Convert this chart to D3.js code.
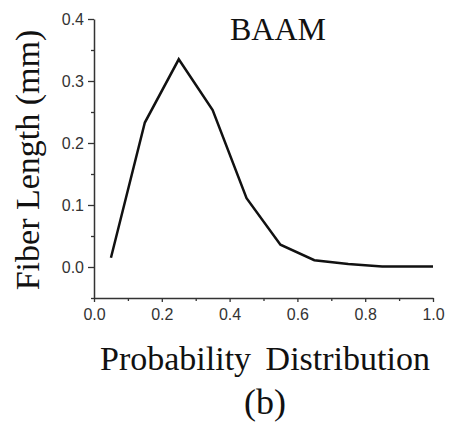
<!DOCTYPE html>
<html>
<head>
<meta charset="utf-8">
<script src="https://cdn.jsdelivr.net/npm/d3@7"></script>
<style>
  html, body { margin: 0; padding: 0; background: #ffffff; }
  svg { display: block; }
</style>
</head>
<body>
<svg id="chart" width="450" height="427"></svg>
<script>
// ---- data ----
const probability = [0.05, 0.15, 0.25, 0.35, 0.45, 0.55, 0.65, 0.75, 0.85, 0.95, 1.0];
const fiberLength = [0.015, 0.233, 0.335, 0.253, 0.111, 0.036, 0.011, 0.005, 0.001, 0.001, 0.001];
const xTicks = [0.0, 0.2, 0.4, 0.6, 0.8, 1.0];
const yTicks = [0.0, 0.1, 0.2, 0.3, 0.4];
const xMinorTicks = [0.1, 0.3, 0.5, 0.7, 0.9];
const yMinorTicks = [-0.05, 0.05, 0.15, 0.25, 0.35];
const title = "BAAM";
const xLabel = "Probability Distribution";
const yLabel = "Fiber Length (mm)";
const panelLabel = "(b)";

// ---- layout ----
const svg = d3.select("#chart");
const plotLeft = 94, plotRight = 433, plotTop = 19, plotBottom = 298;

const x = d3.scaleLinear().domain([0, 1]).range([plotLeft, plotRight]);
const y = d3.scaleLinear().domain([-0.05, 0.4]).range([plotBottom, plotTop]);

const axisColor = "#333";
const fmt = d3.format(".1f");

// x axis
const gx = svg.append("g").attr("transform", `translate(0,${plotBottom})`);
gx.call(d3.axisBottom(x).tickValues(xTicks).tickFormat(fmt).tickSize(4).tickSizeOuter(0).tickPadding(7));
gx.append("g").call(d3.axisBottom(x).tickValues(xMinorTicks).tickFormat("").tickSize(3).tickSizeOuter(0))
  .select(".domain").remove();

// y axis
const gy = svg.append("g").attr("transform", `translate(${plotLeft},0)`);
gy.call(d3.axisLeft(y).tickValues(yTicks).tickFormat(fmt).tickSize(6).tickSizeOuter(0).tickPadding(4));
gy.append("g").call(d3.axisLeft(y).tickValues(yMinorTicks).tickFormat("").tickSize(3).tickSizeOuter(0))
  .select(".domain").remove();

svg.selectAll(".domain").attr("stroke", axisColor).attr("stroke-width", 1.5);
svg.selectAll(".tick line").attr("stroke", axisColor).attr("stroke-width", 1.3);
svg.selectAll(".tick text")
  .attr("font-family", "'Liberation Sans', Arial, sans-serif")
  .attr("font-size", 16)
  .attr("fill", "#333");

// line
const data = probability.map((p, i) => ({ p, v: fiberLength[i] }));
svg.append("path")
  .datum(data)
  .attr("fill", "none")
  .attr("stroke", "#111")
  .attr("stroke-width", 2.5)
  .attr("stroke-linejoin", "miter")
  .attr("d", d3.line().x(d => x(d.p)).y(d => y(d.v)));

// texts
const serif = "'Liberation Serif', 'Times New Roman', serif";
svg.append("text")
  .attr("x", 230).attr("y", 40)
  .attr("font-family", serif).attr("font-size", 32).attr("fill", "#111")
  .text(title);

svg.append("text")
  .attr("transform", "translate(39,160) rotate(-90)")
  .attr("text-anchor", "middle")
  .attr("font-family", serif).attr("font-size", 34).attr("fill", "#111")
  .text(yLabel);

svg.append("text")
  .attr("x", 265).attr("y", 370)
  .attr("text-anchor", "middle")
  .attr("font-family", serif).attr("font-size", 34).attr("word-spacing", 6).attr("fill", "#111")
  .text(xLabel);

svg.append("text")
  .attr("x", 265).attr("y", 414)
  .attr("text-anchor", "middle")
  .attr("font-family", serif).attr("font-size", 36).attr("fill", "#111")
  .text(panelLabel);
</script>
</body>
</html>
